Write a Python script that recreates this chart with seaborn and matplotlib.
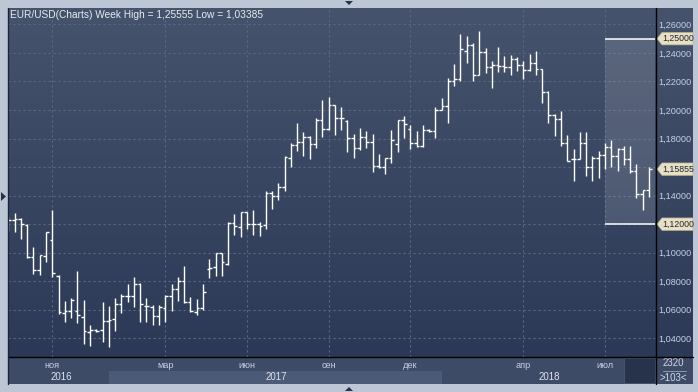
import numpy as np
import matplotlib
matplotlib.use("Agg")
import matplotlib.pyplot as plt
import matplotlib.transforms as mtransforms
from matplotlib.colors import LinearSegmentedColormap
from matplotlib.patches import Polygon, Rectangle
from matplotlib.lines import Line2D
from matplotlib.ticker import FuncFormatter
import seaborn as sns

# weekly EUR/USD bars (index = bar number)
opens = [1.1160, 1.1230, 1.1237, 1.1197, 1.0970, 1.0879, 1.0975, 1.1089, 1.0839, 1.0580,
         1.0594, 1.0590, 1.0547, 1.0441, 1.0458, 1.0460, 1.0520, 1.0535, 1.0640, 1.0700,
         1.0695, 1.0781, 1.0627, 1.0622, 1.0559, 1.0613, 1.0700, 1.0746, 1.0800, 1.0657,
         1.0585, 1.0611, 1.0886, 1.0903, 1.0996, 1.0921, 1.1209, 1.1178, 1.1283, 1.1202,
         1.1202, 1.1197, 1.1418, 1.1399, 1.1460, 1.1665, 1.1755, 1.1775, 1.1813, 1.1760,
         1.1930, 1.1870, 1.2035, 1.1945, 1.1925, 1.1807, 1.1732, 1.1813, 1.1774, 1.1609,
         1.1604, 1.1665, 1.1764, 1.1932, 1.1869, 1.1769, 1.1745, 1.1862, 1.1850, 1.2003,
         1.2030, 1.2201, 1.2217, 1.2416, 1.2458, 1.2248, 1.2407, 1.2299, 1.2318, 1.2306,
         1.2299, 1.2357, 1.2318, 1.2283, 1.2330, 1.2290, 1.2124, 1.1963, 1.1937, 1.1769,
         1.1657, 1.1657, 1.1769, 1.1600, 1.1664, 1.1685, 1.1739, 1.1680, 1.1730, 1.1657,
         1.1571, 1.1408, 1.1442]
highs = [1.1250, 1.1280, 1.1242, 1.1198, 1.1038, 1.0986, 1.1143, 1.1302, 1.0842, 1.0659,
         1.0680, 1.0869, 1.0668, 1.0495, 1.0462, 1.0652, 1.0628, 1.0680, 1.0710, 1.0780,
         1.0827, 1.0788, 1.0680, 1.0634, 1.0634, 1.0706, 1.0781, 1.0828, 1.0905, 1.0688,
         1.0676, 1.0781, 1.0956, 1.0996, 1.0996, 1.1213, 1.1272, 1.1283, 1.1283, 1.1299,
         1.1213, 1.1434, 1.1430, 1.1488, 1.1679, 1.1767, 1.1907, 1.1844, 1.1821, 1.1941,
         1.2069, 1.2088, 1.2035, 1.2023, 1.1930, 1.1835, 1.1872, 1.1853, 1.1832, 1.1690,
         1.1667, 1.1860, 1.1932, 1.1960, 1.1898, 1.1855, 1.1898, 1.1868, 1.2019, 1.2084,
         1.2224, 1.2322, 1.2533, 1.2516, 1.2470, 1.2556, 1.2435, 1.2346, 1.2442, 1.2376,
         1.2388, 1.2369, 1.2345, 1.2393, 1.2416, 1.2290, 1.2131, 1.1973, 1.1996, 1.1828,
         1.1727, 1.1844, 1.1844, 1.1676, 1.1711, 1.1769, 1.1793, 1.1735, 1.1745, 1.1745,
         1.1622, 1.1441, 1.1599]
lows = [1.1150, 1.1148, 1.1097, 1.0966, 1.0851, 1.0846, 1.0933, 1.0827, 1.0570, 1.0516,
        1.0542, 1.0505, 1.0359, 1.0348, 1.0445, 1.0371, 1.0336, 1.0448, 1.0575, 1.0652,
        1.0617, 1.0517, 1.0517, 1.0490, 1.0490, 1.0512, 1.0594, 1.0664, 1.0648, 1.0583,
        1.0566, 1.0599, 1.0820, 1.0839, 1.0839, 1.0917, 1.1127, 1.1108, 1.1166, 1.1127,
        1.1120, 1.1169, 1.1306, 1.1367, 1.1430, 1.1604, 1.1716, 1.1681, 1.1655, 1.1732,
        1.1813, 1.1860, 1.1825, 1.1860, 1.1709, 1.1662, 1.1720, 1.1732, 1.1569, 1.1593,
        1.1551, 1.1627, 1.1704, 1.1804, 1.1730, 1.1739, 1.1739, 1.1848, 1.1804, 1.1998,
        1.1909, 1.2170, 1.2206, 1.2329, 1.2206, 1.2248, 1.2260, 1.2154, 1.2264, 1.2264,
        1.2243, 1.2276, 1.2215, 1.2271, 1.2243, 1.2049, 1.1910, 1.1816, 1.1746, 1.1641,
        1.1505, 1.1657, 1.1536, 1.1506, 1.1525, 1.1588, 1.1600, 1.1571, 1.1616, 1.1559,
        1.1384, 1.1298, 1.1389]
closes = [1.1228, 1.1235, 1.1202, 1.0973, 1.0879, 1.0986, 1.1143, 1.0855, 1.0582, 1.0594,
          1.0666, 1.0563, 1.0448, 1.0460, 1.0452, 1.0520, 1.0530, 1.0640, 1.0700, 1.0699,
          1.0781, 1.0641, 1.0627, 1.0559, 1.0618, 1.0700, 1.0746, 1.0800, 1.0652, 1.0590,
          1.0611, 1.0723, 1.0896, 1.0996, 1.0933, 1.1209, 1.1185, 1.1283, 1.1202, 1.1202,
          1.1190, 1.1418, 1.1400, 1.1460, 1.1674, 1.1755, 1.1775, 1.1813, 1.1760, 1.1930,
          1.1865, 1.2035, 1.1941, 1.1941, 1.1807, 1.1732, 1.1813, 1.1774, 1.1609, 1.1604,
          1.1665, 1.1790, 1.1932, 1.1903, 1.1769, 1.1745, 1.1862, 1.1850, 1.2003, 1.2030,
          1.2201, 1.2217, 1.2430, 1.2458, 1.2248, 1.2407, 1.2299, 1.2318, 1.2306, 1.2299,
          1.2357, 1.2318, 1.2283, 1.2330, 1.2290, 1.2124, 1.1963, 1.1937, 1.1769, 1.1646,
          1.1657, 1.1769, 1.1600, 1.1664, 1.1685, 1.1739, 1.1680, 1.1730, 1.1657, 1.1571,
          1.1408, 1.1442, 1.15855]

month_idx = [7, 25, 38, 51, 64, 82, 95]
month_labels = ["ноя", "мар", "июн", "сен", "дек", "апр", "июл"]
year_labels = ["2016", "2017", "2018"]
year_label_x = [8.5, 42.6, 86.1]
year_2017 = (16, 69)
levels = [1.25, 1.12]
last_price = 1.15855
hidden_ticks = [1.12, 1.16]
title = "EUR/USD(Charts) Week High = 1,25555 Low = 1,03385"

# %%
sns.set_style("dark")
plt.rcParams['font.family'] = ['Liberation Sans', 'DejaVu Sans']

W, H = 698, 392
def fr(x0, y0, x1, y1):
    return [x0 / W, 1 - y1 / H, (x1 - x0) / W, (y1 - y0) / H]

def price(v):
    return f"{v:.5f}".replace(".", ",")

fig = plt.figure(figsize=(W / 100, H / 100), dpi=100, facecolor="#bdc6d5")

xlim = (-0.05, 102.97)
ylim = (1.0269, 1.2715)
grad = LinearSegmentedColormap.from_list("bg", ["#2b3957", "#46536c"])

ax_bg = fig.add_axes(fr(8, 8, 693, 357), zorder=0)
ax_bg.imshow(np.linspace(0, 1, 256).reshape(-1, 1), cmap=grad, origin="lower",
             aspect="auto", extent=[0, 1, 0, 1])
ax_bg.set_axis_off()

# x-axis strip and corner boxes
fig.add_artist(Rectangle((8 / W, 1 - 384 / H), 685 / W, 27 / H, transform=fig.transFigure,
                         fc="#3d4b67", ec="none", zorder=0.5))
fig.add_artist(Rectangle((624 / W, 1 - 383 / H), 31 / W, 25 / H, transform=fig.transFigure,
                         fc="#27324b", ec="#4a5670", lw=0.6, zorder=0.6))

ax = fig.add_axes(fr(8, 8, 655, 357), zorder=1)
ax.set_facecolor("none")
ax.set_xlim(*xlim)
ax.set_ylim(*ylim)

xb = mtransforms.blended_transform_factory(ax.transData, ax.transAxes)
ax.add_patch(Rectangle((year_2017[0], -27 / 349), year_2017[1] - year_2017[0], 13 / 349,
                       transform=xb, fc="#4b5a77", ec="none", clip_on=False, zorder=0))

# OHLC bars
idx = np.arange(len(opens))
tw = 0.42
ax.vlines(idx, lows, highs, colors="white", lw=1.0, zorder=3)
ax.hlines(opens, idx - tw, idx, colors="white", lw=1.0, zorder=3)
ax.hlines(closes, idx, idx + tw, colors="white", lw=1.0, zorder=3)

# highlighted range on the right
ax.fill_between([month_idx[-1], xlim[1]], levels[1], levels[0], color="white", alpha=0.12, lw=0, zorder=1)
ax.hlines(levels, month_idx[-1], xlim[1], colors="white", lw=1.1, zorder=3)

ax.set_yticks(np.arange(1.04, 1.2601, 0.02))
ax.yaxis.set_major_formatter(FuncFormatter(
    lambda v, p: "" if any(abs(v - h) < 1e-6 for h in hidden_ticks) else price(v)))
ax.yaxis.tick_right()
ax.tick_params(axis="y", length=0, pad=2.5, labelsize=6.6, labelcolor="#c6d0e4")
ax.set_xticks(month_idx, month_labels)
ax.tick_params(axis="x", length=0, pad=2.8, labelsize=6.6, labelcolor="#c6d0e4")
ax.grid(True, color="#5a6782", lw=0.8, ls=(0, (2, 2.5)))
for s in ax.spines.values():
    s.set_visible(False)

for x, t in zip(year_label_x, year_labels):
    ax.text(x, -20 / 349, t, transform=xb, ha="center", va="center", fontsize=7,
            color="#dde3ee", clip_on=False)

# price tags on the right axis
tt = mtransforms.blended_transform_factory(ax.transAxes, ax.transData)
hh = 6.2 / 1427
for v in [levels[0], last_price, levels[1]]:
    ax.add_patch(Polygon([(1.0031, v), (1.0108, v + hh), (1.0587, v + hh), (1.0587, v - hh),
                          (1.0108, v - hh)], closed=True, transform=tt, fc="#e7e0c4",
                         ec="#b9b295", lw=0.5, clip_on=False, zorder=5))
    ax.text(1.0112, v, price(v), transform=tt, va="center", ha="left",
            fontsize=6.3, color="#1f2533", zorder=6, clip_on=False)

# frame lines
def fline(xs, ys, c, lw=1.0):
    fig.add_artist(Line2D([x / W for x in xs], [1 - y / H for y in ys], transform=fig.transFigure,
                          color=c, lw=lw, zorder=4))
fline([655.5, 655.5], [8, 384], "#000000")
fline([8, 693], [357, 357], "#000000")
fline([8, 8], [8, 384], "#1c2538")
fline([663, 686], [370.5, 370.5], "#9aa6bc", 0.6)

fig.text(10 / W, 1 - 15 / H, title, ha="left", va="center", fontsize=7.3, color="#e8ecf2")
fig.text(673 / W, 1 - 363.5 / H, "2320", ha="center", va="center", fontsize=7, color="#d2d9e6")
fig.text(673 / W, 1 - 378 / H, ">103<", ha="center", va="center", fontsize=7, color="#d2d9e6")

# small scroll arrows in the frame
def tri(pts):
    fig.add_artist(Polygon([(x / W, 1 - y / H) for x, y in pts], closed=True,
                           transform=fig.transFigure, fc="#273147", ec="none", zorder=4))
tri([(345, 1), (353, 1), (349, 5)])
tri([(345, 391), (353, 391), (349, 387)])
tri([(1, 192), (1, 201), (6, 196.5)])

fig.savefig("out.png", dpi=100, facecolor=fig.get_facecolor())
